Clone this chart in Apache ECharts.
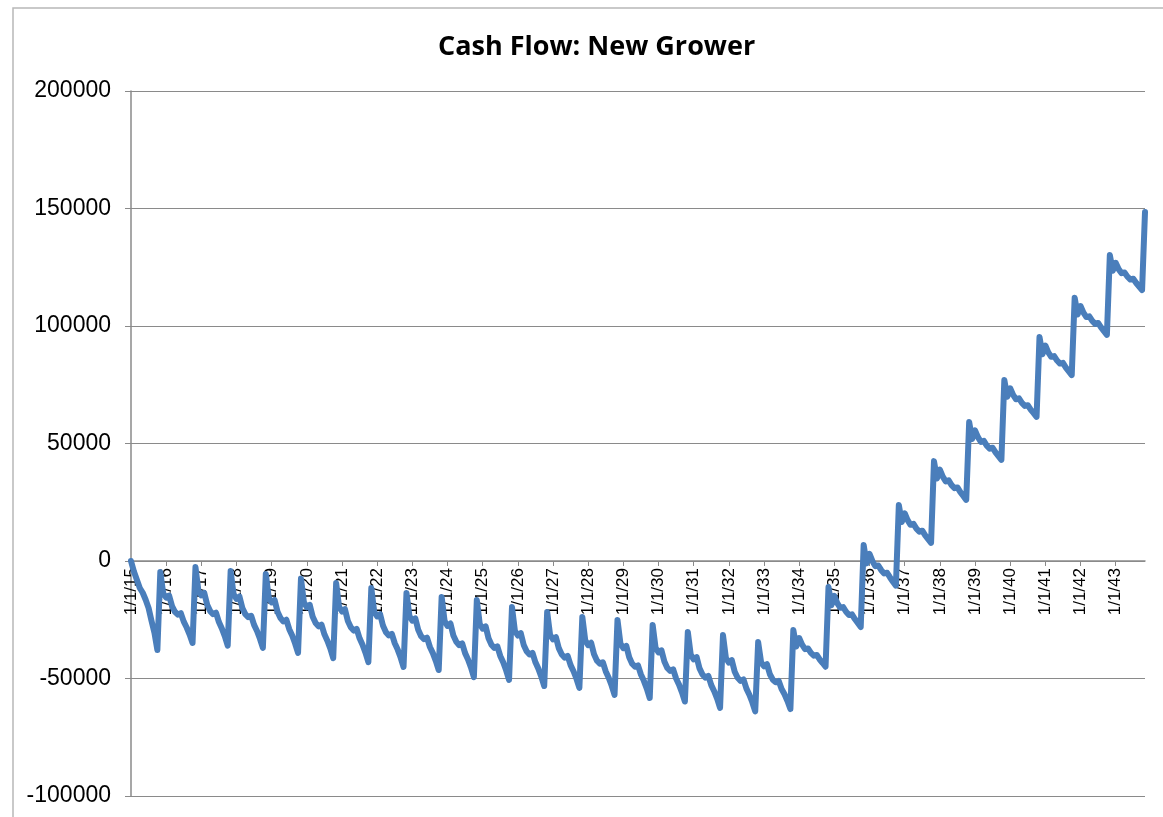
<!DOCTYPE html>
<html>
<head>
<meta charset="utf-8">
<script src="https://cdn.jsdelivr.net/npm/echarts@6/dist/echarts.min.js"></script>
<style>
  html, body { margin: 0; padding: 0; background: #ffffff; }
  #chart { width: 1163px; height: 817px; }
</style>
</head>
<body>
<div id="chart"></div>
<script>
// Monthly cash flow, Jan 2015 .. Nov 2043 (one row per year)
const years = [2015,2016,2017,2018,2019,2020,2021,2022,2023,2024,2025,2026,2027,2028,2029,2030,2031,2032,2033,2034,2035,2036,2037,2038,2039,2040,2041,2042,2043];
const cashFlow = [
  0, -4500, -8000, -11500, -13500, -16500, -20000, -25500, -30500, -37900, -4700, -13800,
  -15600, -14700, -19200, -21600, -22800, -22200, -25800, -28300, -31300, -34900, -2600, -12600,
  -14600, -13600, -18600, -21300, -22600, -22000, -26000, -28700, -32000, -36000, -4300, -14100,
  -16100, -15100, -20000, -22600, -23900, -23300, -27200, -29800, -33100, -37000, -5500, -15600,
  -17600, -16600, -21600, -24300, -25700, -25000, -29000, -31700, -35100, -39100, -7500, -17600,
  -19700, -18700, -23700, -26400, -27800, -27100, -31200, -33900, -37200, -41300, -9400, -19500,
  -21500, -20500, -25500, -28200, -29600, -28900, -32900, -35600, -39000, -43000, -11500, -21600,
  -23600, -22600, -27600, -30300, -31700, -31000, -35000, -37700, -41100, -45100, -13600, -23400,
  -25400, -24400, -29300, -32000, -33300, -32600, -36600, -39200, -42500, -46400, -15300, -25500,
  -27600, -26600, -31700, -34400, -35800, -35100, -39200, -41900, -45300, -49400, -16600, -26800,
  -28800, -27800, -32900, -35600, -37000, -36300, -40400, -43100, -46500, -50600, -19600, -29700,
  -31700, -30700, -35700, -38400, -39800, -39100, -43100, -45800, -49200, -53200, -21700, -31400,
  -33300, -32400, -37200, -39800, -41100, -40400, -44300, -46900, -50100, -54000, -23800, -33800,
  -35800, -34800, -39700, -42400, -43700, -43100, -47000, -49700, -53000, -57000, -25100, -35100,
  -37100, -36100, -41000, -43700, -45000, -44400, -48300, -51000, -54300, -58300, -27200, -37000,
  -38900, -38000, -42800, -45500, -46800, -46100, -50000, -52600, -55900, -59800, -30200, -39900,
  -41800, -40900, -45700, -48300, -49600, -48900, -52800, -55400, -58600, -62500, -31500, -41300,
  -43200, -42200, -47100, -49700, -51000, -50400, -54300, -56900, -60100, -64000, -34500, -43100,
  -44800, -43900, -48200, -50500, -51600, -51000, -54500, -56700, -59600, -63000, -29400, -36400,
  -32800, -35600, -37500, -37200, -39100, -40300, -40000, -41900, -43400, -45000, -11100, -18800,
  -14800, -17900, -19900, -19600, -21600, -23000, -22700, -24700, -26400, -28100, 6800, -1000,
  3000, -100, -2200, -1900, -3900, -5300, -5000, -7000, -8800, -10500, 23800, 16600,
  20300, 17400, 15400, 15800, 13800, 12500, 12900, 10900, 9300, 7700, 42500, 35100,
  38900, 35900, 33900, 34300, 32300, 31000, 31300, 29300, 27700, 26000, 59100, 51900,
  55600, 52700, 50700, 51100, 49100, 47800, 48200, 46200, 44600, 43000, 77000, 69900,
  73500, 70700, 68800, 69200, 67300, 66000, 66300, 64400, 62900, 61300, 95300, 88000,
  91700, 88800, 86900, 87200, 85300, 84000, 84300, 82300, 80700, 79100, 112000, 104900,
  108500, 105700, 103800, 104100, 102200, 100900, 101300, 99400, 97800, 96200, 130200, 123500,
  126900, 124200, 122500, 122800, 121000, 119800, 120100, 118300, 116800, 115300, 148500
];
const titleText = 'Cash Flow: New Grower';
const yMin = -100000, yMax = 200000, yStep = 50000;

// category labels "M/1/YY" for each month
const categories = [];
for (const yr of years) {
  for (let m = 1; m <= 12; m++) {
    if (categories.length < cashFlow.length) categories.push(m + '/1/' + String(yr).slice(2));
  }
}

const W = 1163, H = 817;
const gridTop = 91, gridBottom = 21;
const plotH = H - gridTop - gridBottom;
// move the category axis (line, ticks, labels) up to the zero level of the value axis
const zeroOffset = -plotH * (0 - yMin) / (yMax - yMin);

const chart = echarts.init(document.getElementById('chart'), null, { renderer: 'canvas' });
chart.setOption({
  backgroundColor: '#ffffff',
  animation: false,
  title: {
    text: titleText,
    left: 433,
    top: 29,
    textStyle: { fontFamily: 'Open Sans', fontWeight: 'bold', fontSize: 27, color: '#000' }
  },
  graphic: [{
    type: 'rect',
    shape: { x: 13, y: 8, width: 1200, height: 900 },
    style: { fill: 'none', stroke: '#b8b8b8', lineWidth: 1.5 },
    silent: true
  }],
  grid: { left: 131, right: 18, top: gridTop, bottom: gridBottom, containLabel: false, outerBoundsMode: 'none' },
  xAxis: {
    type: 'category',
    data: categories,
    boundaryGap: false,
    position: 'bottom',
    offset: zeroOffset,
    axisLine: { onZero: false, lineStyle: { color: '#8a8a8a', width: 1.5 } },
    axisTick: { show: true, interval: 11, length: 5, lineStyle: { color: '#8a8a8a' } },
    axisLabel: {
      interval: 11, rotate: 90, margin: 7,
      fontFamily: 'Liberation Sans', fontSize: 17, color: '#000'
    },
    splitLine: { show: false }
  },
  yAxis: {
    type: 'value',
    min: yMin, max: yMax, interval: yStep,
    axisLine: { show: true, onZero: false, lineStyle: { color: '#8a8a8a', width: 1.5 } },
    axisTick: { show: true, length: 6, lineStyle: { color: '#8a8a8a' } },
    axisLabel: {
      fontFamily: 'Liberation Sans', fontSize: 23, color: '#000', margin: 20,
      formatter: function (v) { return String(v); }
    },
    splitLine: { show: true, lineStyle: { color: '#8a8a8a', width: 1.2 } }
  },
  series: [{
    type: 'line',
    data: cashFlow,
    symbol: 'none',
    smooth: false,
    z: 5,
    lineStyle: { color: '#4a7ebb', width: 6, join: 'round', cap: 'round' }
  }]
});
</script>
</body>
</html>
